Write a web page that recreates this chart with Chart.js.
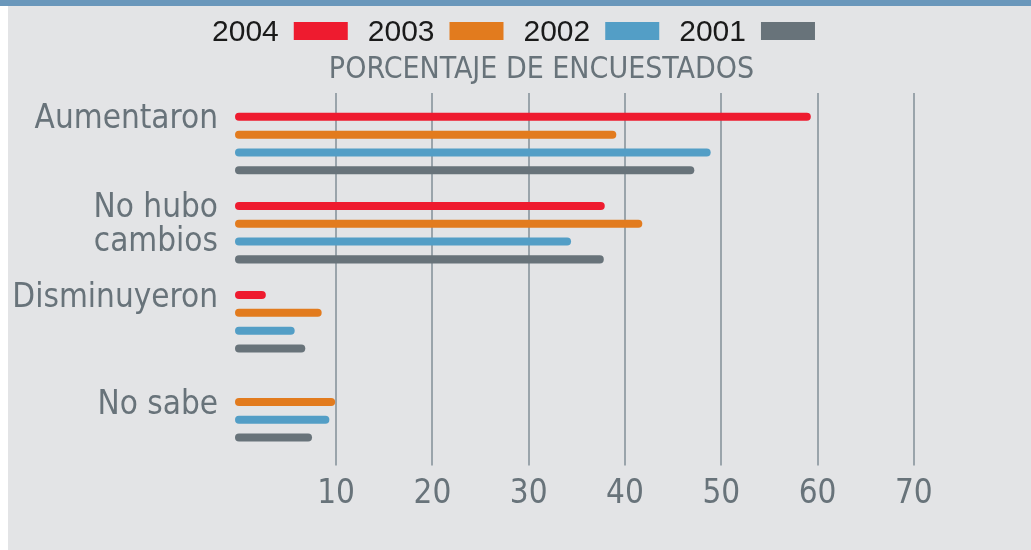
<!DOCTYPE html>
<html>
<head>
<meta charset="utf-8">
<script src="https://cdn.jsdelivr.net/npm/chart.js@4/dist/chart.umd.min.js"></script>
<style>
  html, body { margin: 0; padding: 0; background: #ffffff; }
  #wrap { position: relative; width: 1031px; height: 550px; }
</style>
</head>
<body>
<div id="wrap"><canvas id="surveyChart"></canvas></div>
<script>
// categories (y axis), series values, tick labels
const categories = ["Aumentaron", ["No hubo", "cambios"], "Disminuyeron", "No sabe"];
const seriesNames = ["2004", "2003", "2002", "2001"];
const values2004 = [59.3, 37.9, 2.7, null];
const values2003 = [39.1, 41.8, 8.5, 9.9];
const values2002 = [48.9, 34.4, 5.7, 9.3];
const values2001 = [47.2, 37.8, 6.8, 7.5];
const tickValues = [10, 20, 30, 40, 50, 60, 70];
const axisTitle = "PORCENTAJE DE ENCUESTADOS";

const colors = ["#ee1b2f", "#e27b1e", "#539ec6", "#68737a"];
const greyText = "#68737a";
const gridColor = "#9aa4ab";
const labelFont = "'DejaVu Sans Condensed', 'DejaVu Sans', sans-serif";
const legendFont = "'Liberation Sans', Arial, sans-serif";

// panel background with the blue band on top
const backgroundPlugin = {
    id: "panel",
    beforeDraw(chart){
        const c = chart.ctx;
        c.save();
        c.fillStyle = "#ffffff";
        c.fillRect(0, 0, chart.width, chart.height);
        c.fillStyle = "#e3e4e6";
        c.fillRect(8, 6, chart.width - 8, chart.height - 6);
        c.fillStyle = "#6a97bb";
        c.fillRect(0, 0, chart.width, 6);

        // grid lines run a little above the plot area
        const xs = chart.scales.x;
        c.strokeStyle = gridColor;
        c.lineWidth = 2;
        tickValues.forEach(v => {
            const px = Math.round(xs.getPixelForValue(v));
            c.beginPath();
            c.moveTo(px, chart.chartArea.top - 6);
            c.lineTo(px, chart.chartArea.top);
            c.stroke();
        });
        c.restore();
    }
};

// legend (label first, swatch after) and the axis heading
const headerPlugin = {
    id: "header",
    afterDraw(chart){
        const c = chart.ctx;
        c.save();
        c.font = "30px " + legendFont;
        c.textBaseline = "middle";
        const boxW = 54, boxH = 18, gapText = 15, gapItem = 20;
        const items = chart.data.datasets.map(ds => ({
            text: ds.label,
            color: ds.backgroundColor,
            w: c.measureText(ds.label).width
        }));
        let total = 0;
        items.forEach((it, i) => {
            total += it.w + gapText + boxW + (i < items.length - 1 ? gapItem : 0);
        });
        let x = chart.width / 2 - 2 - total / 2;
        const y = 33;
        items.forEach(it => {
            c.fillStyle = "#1a1a1a";
            c.textAlign = "left";
            c.fillText(it.text, x, y);
            x += it.w + gapText;
            c.fillStyle = it.color;
            c.fillRect(x, y - boxH / 2 - 2, boxW, boxH);
            x += boxW + gapItem;
        });

        c.font = "30px " + labelFont;
        c.fillStyle = greyText;
        c.textAlign = "center";
        c.fillText(axisTitle, chart.width / 2 + 26, 70);
        c.restore();
    }
};

// category labels sit next to the first bar of each group
const categoryLabels = {
    id: "categoryLabels",
    afterDatasetsDraw(chart){
        const c = chart.ctx;
        const x = chart.chartArea.left - 17;
        c.save();
        c.font = "33px " + labelFont;
        c.fillStyle = greyText;
        c.textAlign = "right";
        c.textBaseline = "middle";
        categories.forEach((label, i) => {
            let y = null;
            for (let d = 0; d < chart.data.datasets.length; d++) {
                if (chart.data.datasets[d].data[i] !== null) {
                    y = chart.getDatasetMeta(d).data[i].y;
                    break;
                }
            }
            if (y === null) return;
            const lines = Array.isArray(label) ? label : [label];
            lines.forEach((line, k) => {
                c.fillText(line, x, y + 3 + k * 34);
            });
        });
        c.restore();
    }
};

const seriesData = [values2004, values2003, values2002, values2001];

const ctx = document.getElementById("surveyChart");

const chart = new Chart(ctx, {
    type: "bar",
    data: {
        labels: categories,
        datasets: seriesNames.map((name, i) => ({
            label: name,
            data: seriesData[i],
            backgroundColor: colors[i],
            borderRadius: 4,
            borderSkipped: false,
            categoryPercentage: 0.8,
            barPercentage: 0.45,
            base: -0.5
        }))
    },
    options: {
        indexAxis: "y",
        responsive: true,
        maintainAspectRatio: false,
        animation: false,
        layout: {
            padding: { left: 235, right: 69, top: 99, bottom: 27 }
        },
        scales: {
            x: {
                min: -0.5,
                max: 75,
                afterBuildTicks: axis => {
                    axis.ticks = tickValues.map(v => ({ value: v }));
                },
                border: { display: false },
                grid: {
                    color: gridColor,
                    lineWidth: 2,
                    tickLength: 10
                },
                ticks: {
                    color: greyText,
                    padding: 9,
                    font: { family: labelFont, size: 33 }
                }
            },
            y: {
                display: false
            }
        },
        plugins: {
            legend: { display: false },
            title: { display: false },
            tooltip: { enabled: false }
        }
    },
    plugins: [backgroundPlugin, headerPlugin, categoryLabels]
});
</script>
</body>
</html>
